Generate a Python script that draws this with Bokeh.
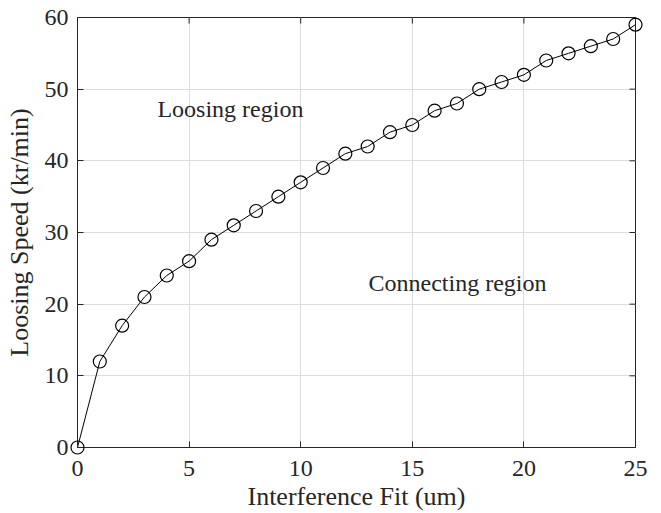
import math
from bokeh.plotting import figure
from bokeh.models import FixedTicker, Range1d, Label
from bokeh.embed import file_html
from bokeh.resources import INLINE

fit_um = [0, 1, 2, 3, 4, 5, 6, 7, 8, 9, 10, 11, 12, 13, 14, 15, 16, 17, 18, 19, 20, 21, 22, 23, 24, 25]
speed_krmin = [0, 12, 17, 21, 24, 26, 29, 31, 33, 35, 37, 39, 41, 42, 44, 45, 47, 48, 50, 51, 52, 54, 55, 56, 57, 59]
x_ticks = [0, 5, 10, 15, 20, 25]
y_ticks = [0, 10, 20, 30, 40, 50, 60]

FONT = "Liberation Serif"
INK = "#262626"

p = figure(width=661, height=513, output_backend="svg", toolbar_location=None,
           x_range=Range1d(0, 25), y_range=Range1d(0, 60),
           x_axis_label="Interference Fit (um)", y_axis_label="Loosing Speed (kr/min)")
p.min_border_left = 77
p.min_border_right = 26
p.min_border_top = 17
p.min_border_bottom = 66
p.outline_line_color = INK
p.outline_line_width = 1
p.background_fill_color = "white"
p.border_fill_color = "white"

for ax, ticks in ((p.xaxis[0], x_ticks), (p.yaxis[0], y_ticks)):
    ax.ticker = FixedTicker(ticks=ticks)
    ax.major_tick_in = 6
    ax.major_tick_out = 0
    ax.minor_tick_in = 0
    ax.minor_tick_out = 0
    ax.axis_line_color = INK
    ax.major_tick_line_color = INK
    ax.major_label_text_font = FONT
    ax.major_label_text_font_size = "24px"
    ax.major_label_text_color = INK
    ax.axis_label_text_font = FONT
    ax.axis_label_text_font_size = "26px"
    ax.axis_label_text_font_style = "normal"
    ax.axis_label_text_color = INK
p.xaxis[0].major_label_standoff = 13
p.xaxis[0].axis_label_standoff = 3
p.yaxis[0].major_label_standoff = 9
p.yaxis[0].axis_label_standoff = 8

# inward ticks on the top and right edges of the box
p.ray(x=x_ticks, y=[60] * len(x_ticks), length=6, length_units="screen",
      angle=-math.pi / 2, line_color=INK, line_width=1)
p.ray(x=[25] * len(y_ticks), y=y_ticks, length=6, length_units="screen",
      angle=math.pi, line_color=INK, line_width=1)

p.xgrid.ticker = FixedTicker(ticks=x_ticks)
p.ygrid.ticker = FixedTicker(ticks=y_ticks)
p.grid.grid_line_color = "#dcdcdc"
p.grid.grid_line_width = 1

p.line(fit_um, speed_krmin, line_color="black", line_width=1)
p.scatter(fit_um, speed_krmin, marker="circle", size=13, fill_color=None,
          line_color="black", line_width=1.2, level="overlay")

p.add_layout(Label(x=3.58, y=47.3, text="Loosing region", text_font=FONT,
                   text_font_size="24px", text_baseline="middle", text_color=INK))
p.add_layout(Label(x=13.04, y=22.9, text="Connecting region", text_font=FONT,
                   text_font_size="24px", text_baseline="middle", text_color=INK))

open("out.html", "w").write(file_html(p, INLINE))
